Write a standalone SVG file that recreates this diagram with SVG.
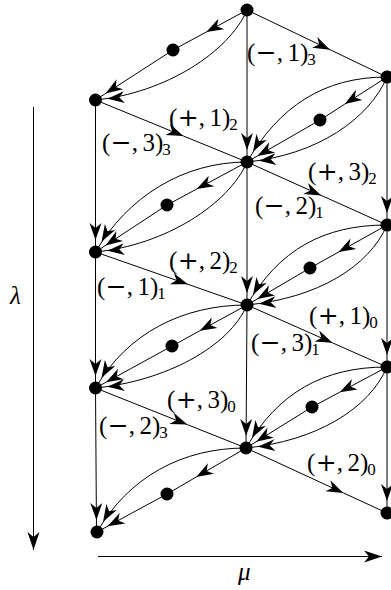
<svg xmlns="http://www.w3.org/2000/svg" width="391" height="590" viewBox="0 0 391 590">
<style>
.e{fill:none;stroke:#000;stroke-width:1}
.n{fill:#000}
.l{font-family:"Liberation Serif","Times New Roman",serif;font-size:25px;fill:#000}
.o{font-family:"DejaVu Serif","Liberation Serif",serif}
.s{font-size:17px}
.g{font-family:"Liberation Serif","Times New Roman",serif;font-size:25px;font-style:italic;fill:#000}
</style>
<defs>
<marker id="am" overflow="visible" orient="auto" markerUnits="userSpaceOnUse" markerWidth="1" markerHeight="1" refX="0" refY="0"><path d="M0,0 L-17,-6 L-12,0 L-17,6 Z" fill="#000"/></marker>
<marker id="ae" overflow="visible" orient="auto" markerUnits="userSpaceOnUse" markerWidth="1" markerHeight="1" refX="0" refY="0"><path d="M-12,0 L-29,-6 L-24,0 L-29,6 Z" fill="#000"/></marker>
<marker id="aa" overflow="visible" orient="auto" markerUnits="userSpaceOnUse" markerWidth="1" markerHeight="1" refX="0" refY="0"><path d="M0,0 L-18,-6 L-13,0 L-18,6 Z" fill="#000"/></marker>
</defs>
<g id="connectors">
<path class="e" d="M33.5,107 L33.5,550" marker-end="url(#aa)"/>
<path class="e" d="M98,556.5 L382,556.5" marker-end="url(#aa)"/>
<path class="e" d="M95.5,100 L95.5,252" marker-end="url(#ae)"/>
<path class="e" d="M95.5,252 L95.5,388" marker-end="url(#ae)"/>
<path class="e" d="M95.5,388 L96.5,532" marker-end="url(#ae)"/>
<path class="e" d="M247,10 L247,162" marker-end="url(#ae)"/>
<path class="e" d="M247,162 L247,305" marker-end="url(#ae)"/>
<path class="e" d="M247,305 L246,448" marker-end="url(#ae)"/>
<path class="e" d="M387,77 L387,225" marker-end="url(#ae)"/>
<path class="e" d="M387,225 L387,367" marker-end="url(#ae)"/>
<path class="e" d="M387,367 L387,513" marker-end="url(#ae)"/>
<path class="e" d="M247,10 L330,49.7 L387,77" marker-mid="url(#am)"/>
<path class="e" d="M95.5,100 L183.4,136 L247,162" marker-mid="url(#am)"/>
<path class="e" d="M247,162 L321.2,195.4 L387,225" marker-mid="url(#am)"/>
<path class="e" d="M95.5,252 L187.9,284.3 L247,305" marker-mid="url(#am)"/>
<path class="e" d="M247,305 L332.4,342.8 L387,367" marker-mid="url(#am)"/>
<path class="e" d="M95.5,388 L187.3,424.6 L246,448" marker-mid="url(#am)"/>
<path class="e" d="M246,448 L343.3,492.9 L387,513" marker-mid="url(#am)"/>
<path class="e" d="M247,10 L206.3,32 L173,50" marker-mid="url(#am)"/>
<path class="e" d="M173,50 L95.5,100" marker-end="url(#ae)"/>
<path class="e" d="M387,77 L344.8,104.1 L320,120" marker-mid="url(#am)"/>
<path class="e" d="M320,120 L247,162" marker-end="url(#ae)"/>
<path class="e" d="M247,162 L196.6,189.1 L167,205" marker-mid="url(#am)"/>
<path class="e" d="M167,205 L95.5,252" marker-end="url(#ae)"/>
<path class="e" d="M387,225 L338.5,252.1 L310,268" marker-mid="url(#am)"/>
<path class="e" d="M310,268 L247,305" marker-end="url(#ae)"/>
<path class="e" d="M247,305 L199.75,330.8 L172,346" marker-mid="url(#am)"/>
<path class="e" d="M172,346 L95.5,388" marker-end="url(#ae)"/>
<path class="e" d="M387,367 L339.75,392.2 L312,407" marker-mid="url(#am)"/>
<path class="e" d="M312,407 L246,448" marker-end="url(#ae)"/>
<path class="e" d="M246,448 L196.2,477 L167,494" marker-mid="url(#am)"/>
<path class="e" d="M167,494 L97,532" marker-end="url(#ae)"/>
<path class="e" d="M247,10 C229,52 165.5,93 95.5,100" marker-end="url(#ae)"/>
<path class="e" d="M387,77 C323,77 279,107 247,162" marker-end="url(#ae)"/>
<path class="e" d="M387,77 C369,119 317,155 247,162" marker-end="url(#ae)"/>
<path class="e" d="M247,162 C183,162 127.5,197 95.5,252" marker-end="url(#ae)"/>
<path class="e" d="M247,162 C229,204 165.5,245 95.5,252" marker-end="url(#ae)"/>
<path class="e" d="M387,225 C323,225 279,250 247,305" marker-end="url(#ae)"/>
<path class="e" d="M387,225 C369,267 317,298 247,305" marker-end="url(#ae)"/>
<path class="e" d="M247,305 C183,305 127.5,333 95.5,388" marker-end="url(#ae)"/>
<path class="e" d="M247,305 C229,347 165.5,381 95.5,388" marker-end="url(#ae)"/>
<path class="e" d="M387,367 C323,367 278,393 246,448" marker-end="url(#ae)"/>
<path class="e" d="M387,367 C369,409 316,441 246,448" marker-end="url(#ae)"/>
<path class="e" d="M246,448 C182,448 129,477 97,532" marker-end="url(#ae)"/>
</g>
<g id="node-T"><circle class="n" cx="247" cy="10" r="6.5"/></g>
<g id="node-L1"><circle class="n" cx="95.5" cy="100" r="6.5"/></g>
<g id="node-L2"><circle class="n" cx="95.5" cy="252" r="6.5"/></g>
<g id="node-L3"><circle class="n" cx="95.5" cy="388" r="6.5"/></g>
<g id="node-L4"><circle class="n" cx="97" cy="532" r="6.5"/></g>
<g id="node-C1"><circle class="n" cx="247" cy="162" r="6.5"/></g>
<g id="node-C2"><circle class="n" cx="247" cy="305" r="6.5"/></g>
<g id="node-C3"><circle class="n" cx="246" cy="448" r="6.5"/></g>
<g id="node-R1"><circle class="n" cx="387" cy="77" r="6.5"/></g>
<g id="node-R2"><circle class="n" cx="387" cy="225" r="6.5"/></g>
<g id="node-R3"><circle class="n" cx="387" cy="367" r="6.5"/></g>
<g id="node-R4"><circle class="n" cx="387" cy="513" r="6.5"/></g>
<g id="dot-0"><circle class="n" cx="173" cy="50" r="6.5"/></g>
<g id="dot-1"><circle class="n" cx="320" cy="120" r="6.5"/></g>
<g id="dot-2"><circle class="n" cx="167" cy="205" r="6.5"/></g>
<g id="dot-3"><circle class="n" cx="310" cy="268" r="6.5"/></g>
<g id="dot-4"><circle class="n" cx="172" cy="346" r="6.5"/></g>
<g id="dot-5"><circle class="n" cx="312" cy="407" r="6.5"/></g>
<g id="dot-6"><circle class="n" cx="167" cy="494" r="6.5"/></g>
<g id="labels">
<text class="l" x="247" y="61">(<tspan class="o" dx="0.5">−</tspan><tspan dx="0">,</tspan><tspan dx="4.5">1</tspan>)<tspan class="s" dx="-1" dy="4">3</tspan></text>
<text class="l" x="169" y="126">(<tspan class="o" dx="0.5">+</tspan><tspan dx="0">,</tspan><tspan dx="4.5">1</tspan>)<tspan class="s" dx="-1" dy="4">2</tspan></text>
<text class="l" x="102" y="151">(<tspan class="o" dx="0.5">−</tspan><tspan dx="0">,</tspan><tspan dx="4.5">3</tspan>)<tspan class="s" dx="-1" dy="4">3</tspan></text>
<text class="l" x="308" y="180">(<tspan class="o" dx="0.5">+</tspan><tspan dx="0">,</tspan><tspan dx="4.5">3</tspan>)<tspan class="s" dx="-1" dy="4">2</tspan></text>
<text class="l" x="255" y="214">(<tspan class="o" dx="0.5">−</tspan><tspan dx="0">,</tspan><tspan dx="4.5">2</tspan>)<tspan class="s" dx="-1" dy="4">1</tspan></text>
<text class="l" x="169" y="269">(<tspan class="o" dx="0.5">+</tspan><tspan dx="0">,</tspan><tspan dx="4.5">2</tspan>)<tspan class="s" dx="-1" dy="4">2</tspan></text>
<text class="l" x="97" y="295">(<tspan class="o" dx="0.5">−</tspan><tspan dx="0">,</tspan><tspan dx="4.5">1</tspan>)<tspan class="s" dx="-1" dy="4">1</tspan></text>
<text class="l" x="309" y="324">(<tspan class="o" dx="0.5">+</tspan><tspan dx="0">,</tspan><tspan dx="4.5">1</tspan>)<tspan class="s" dx="-1" dy="4">0</tspan></text>
<text class="l" x="251" y="351">(<tspan class="o" dx="0.5">−</tspan><tspan dx="0">,</tspan><tspan dx="4.5">3</tspan>)<tspan class="s" dx="-1" dy="4">1</tspan></text>
<text class="l" x="167" y="408">(<tspan class="o" dx="0.5">+</tspan><tspan dx="0">,</tspan><tspan dx="4.5">3</tspan>)<tspan class="s" dx="-1" dy="4">0</tspan></text>
<text class="l" x="99" y="434">(<tspan class="o" dx="0.5">−</tspan><tspan dx="0">,</tspan><tspan dx="4.5">2</tspan>)<tspan class="s" dx="-1" dy="4">3</tspan></text>
<text class="l" x="307" y="471">(<tspan class="o" dx="0.5">+</tspan><tspan dx="0">,</tspan><tspan dx="4.5">2</tspan>)<tspan class="s" dx="-1" dy="4">0</tspan></text>
<text class="g" x="10" y="304">λ</text>
<text class="g" x="238" y="580">μ</text>
</g>
</svg>
